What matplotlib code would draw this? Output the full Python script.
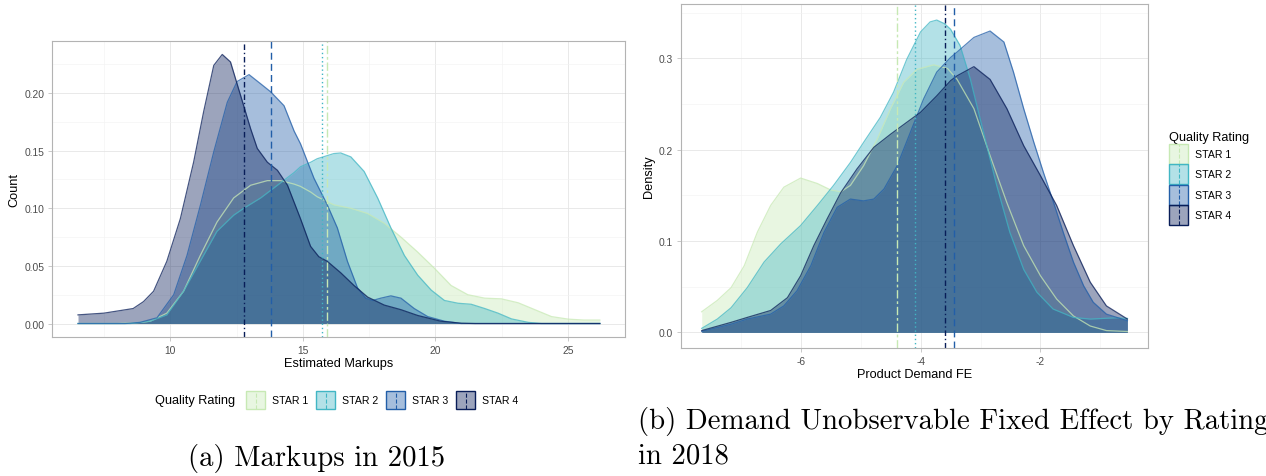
import matplotlib
matplotlib.use("Agg")
import matplotlib.pyplot as plt
from matplotlib.patches import Rectangle
from matplotlib.lines import Line2D
from matplotlib.legend_handler import HandlerBase

plt.rcParams["font.family"] = ["Liberation Sans", "DejaVu Sans"]
plt.rcParams["axes.unicode_minus"] = False

# series names, colours, line styles of the mean lines
stars = ["STAR 1", "STAR 2", "STAR 3", "STAR 4"]
colors = ["#c7e9b4", "#41b6c4", "#225ea8", "#081d58"]
vstyles = [(0, (6, 2, 2, 2)), (0, (1, 2)), (0, (5, 3)), (0, (4, 2, 1, 2))]

# (a) markups 2015 - density curves
mk_x1 = [6.52, 8.0, 8.9, 9.24, 9.87, 10.5, 11.13, 11.76, 12.39, 13.03, 13.66, 14.16, 14.67, 14.91, 15.3,
         15.54, 16.17, 16.81, 17.44, 18.07, 18.7, 19.33, 19.96, 20.59, 21.22, 21.86, 22.49, 23.12, 23.75,
         24.38, 25.01, 25.6, 26.2]
mk_y1 = [0.0, 0.0, 0.001, 0.002, 0.009, 0.028, 0.059, 0.088, 0.109, 0.120, 0.124, 0.124, 0.121, 0.119, 0.114,
         0.110, 0.103, 0.100, 0.0955, 0.087, 0.075, 0.062, 0.048, 0.033, 0.025, 0.022, 0.0214, 0.018, 0.012,
         0.006, 0.0038, 0.003, 0.003]
mk_x2 = [6.52, 8.5, 9.24, 9.87, 10.5, 11.13, 11.76, 12.39, 12.77, 13.41, 14.04, 14.67, 14.91, 15.3, 15.54,
         16.17, 16.43, 16.81, 17.31, 17.82, 18.32, 18.83, 19.33, 19.84, 20.34, 20.85, 21.35, 21.86, 22.36,
         22.87, 23.5, 24.0, 26.2]
mk_y2 = [0.0, 0.0, 0.002, 0.0075, 0.028, 0.054, 0.080, 0.094, 0.100, 0.109, 0.120, 0.131, 0.136, 0.140, 0.143,
         0.1475, 0.148, 0.1446, 0.132, 0.109, 0.083, 0.059, 0.042, 0.029, 0.020, 0.0176, 0.0167, 0.013, 0.009,
         0.004, 0.001, 0.0, 0.0]
mk_x3 = [6.52, 8.3, 8.86, 9.5, 10.13, 10.63, 11.14, 11.64, 12.15, 12.52, 12.97, 13.41, 13.79, 14.29, 14.67,
         14.91, 15.42, 15.92, 16.3, 16.68, 17.06, 17.37, 17.63, 17.94, 18.32, 18.7, 19.2, 19.71, 20.34, 20.97, 26.2]
mk_y3 = [0.0, 0.0, 0.001, 0.005, 0.025, 0.059, 0.103, 0.149, 0.192, 0.210, 0.216, 0.208, 0.201, 0.189, 0.167,
         0.156, 0.126, 0.103, 0.083, 0.054, 0.031, 0.022, 0.020, 0.022, 0.024, 0.022, 0.013, 0.006, 0.002, 0.0, 0.0]
mk_x4 = [6.52, 7.5, 8.6, 8.99, 9.37, 9.87, 10.38, 10.88, 11.26, 11.64, 11.96, 12.27, 12.65, 13.03, 13.28,
         13.66, 14.04, 14.42, 14.91, 15.29, 15.6, 15.92, 16.43, 16.93, 17.44, 18.07, 18.7, 19.33, 20.2, 20.97,
         21.5, 26.2]
mk_y4 = [0.0075, 0.009, 0.013, 0.019, 0.028, 0.054, 0.091, 0.140, 0.184, 0.224, 0.2335, 0.227, 0.198, 0.169,
         0.152, 0.140, 0.133, 0.120, 0.091, 0.067, 0.058, 0.054, 0.044, 0.033, 0.023, 0.016, 0.012, 0.007,
         0.002, 0.0003, 0.0, 0.0]
mk_means = [15.92, 15.71, 13.79, 12.77]

# (b) demand fixed effect 2018
fe_x1 = [-7.65, -7.39, -7.16, -6.94, -6.72, -6.5, -6.28, -6.0, -5.72, -5.5, -5.33, -5.17, -4.95, -4.72, -4.5,
         -4.28, -4.06, -3.78, -3.55, -3.39, -3.11, -2.84, -2.56, -2.28, -2.0, -1.73, -1.45, -1.17, -0.9, -0.55]
fe_y1 = [0.0226, 0.035, 0.049, 0.073, 0.110, 0.139, 0.159, 0.169, 0.163, 0.156, 0.154, 0.161, 0.1825, 0.212,
         0.245, 0.274, 0.288, 0.293, 0.289, 0.277, 0.245, 0.1935, 0.142, 0.095, 0.062, 0.0365, 0.018, 0.007,
         0.002, 0.001]
fe_x2 = [-7.65, -7.39, -7.16, -6.89, -6.61, -6.33, -6.0, -5.72, -5.45, -5.17, -4.95, -4.67, -4.45, -4.23, -4.0,
         -3.84, -3.73, -3.6, -3.5, -3.34, -3.17, -2.95, -2.73, -2.51, -2.28, -2.06, -1.79, -1.45, -1.17, -0.9,
         -0.73, -0.55]
fe_y2 = [0.0044, 0.0146, 0.027, 0.049, 0.077, 0.097, 0.117, 0.139, 0.161, 0.186, 0.208, 0.2355, 0.263, 0.299,
         0.329, 0.340, 0.342, 0.338, 0.332, 0.314, 0.2775, 0.219, 0.161, 0.1095, 0.069, 0.044, 0.0256, 0.0164,
         0.0146, 0.0155, 0.016, 0.0153]
fe_x3 = [-7.65, -7.16, -6.89, -6.5, -6.28, -6.06, -5.83, -5.61, -5.39, -5.17, -4.95, -4.78, -4.61, -4.39, -4.17,
         -3.95, -3.73, -3.5, -3.39, -3.11, -2.84, -2.61, -2.45, -2.28, -2.11, -1.95, -1.78, -1.62, -1.45, -1.28,
         -1.12, -0.9, -0.55]
fe_y3 = [0.001, 0.009, 0.0146, 0.020, 0.029, 0.0456, 0.073, 0.1095, 0.137, 0.146, 0.144, 0.146, 0.157, 0.1825,
         0.219, 0.2555, 0.285, 0.301, 0.307, 0.323, 0.330, 0.318, 0.285, 0.245, 0.208, 0.175, 0.142, 0.1095,
         0.077, 0.051, 0.033, 0.020, 0.0128]
fe_x4 = [-7.65, -7.16, -6.89, -6.5, -6.22, -6.0, -5.78, -5.56, -5.33, -5.06, -4.78, -4.5, -4.23, -4.0, -3.73,
         -3.5, -3.39, -3.11, -2.84, -2.56, -2.28, -2.0, -1.73, -1.45, -1.17, -0.9, -0.55]
fe_y4 = [0.002, 0.011, 0.0164, 0.024, 0.038, 0.062, 0.095, 0.124, 0.153, 0.179, 0.2026, 0.217, 0.230, 0.241,
         0.259, 0.2756, 0.281, 0.291, 0.277, 0.245, 0.2045, 0.1716, 0.139, 0.095, 0.055, 0.029, 0.0146]
fe_means = [-4.39, -4.10, -3.45, -3.60]


class KeyHandler(HandlerBase):
    # ggplot style key: filled box with the mean line through the middle
    def create_artists(self, legend, orig, xd, yd, w, h, fontsize, trans):
        c, ls = orig.get_color(), orig.get_linestyle()
        x0, y0 = -xd, -yd
        box = Rectangle((x0, y0), w, h, fc=c, alpha=0.4, ec="none", transform=trans)
        edge = Rectangle((x0, y0), w, h, fc="none", ec=c, lw=1.0, transform=trans)
        mid = Line2D([x0 + w / 2, x0 + w / 2], [y0, y0 + h], color=c, lw=0.8,
                     linestyle=ls, transform=trans)
        return [box, edge, mid]


def style_axes(ax):
    for s in ax.spines.values():
        s.set_color("#b3b3b3")
        s.set_linewidth(0.8)
    ax.grid(which="major", color="#e5e5e5", lw=0.6)
    ax.grid(which="minor", color="#f2f2f2", lw=0.4)
    ax.set_axisbelow(True)
    ax.tick_params(which="major", length=3, width=0.5, color="#b3b3b3", labelsize=7.4,
                   labelcolor="#4d4d4d", pad=2.5)
    ax.tick_params(which="minor", length=0)


def draw(ax, xs, ys, means):
    for x, y, c in zip(xs, ys, colors):
        ax.fill_between(x, y, color=c, alpha=0.4, lw=0)
        ax.plot(x, y, color=c, lw=0.9, alpha=0.75)
    for m, c, ls in zip(means, colors, vstyles):
        ax.axvline(m, color=c, lw=1.0, linestyle=ls)


fig = plt.figure(figsize=(12.66, 4.77), dpi=100)
ax1 = fig.add_axes([0.0411, 0.2914, 0.4526, 0.6206])
ax2 = fig.add_axes([0.5377, 0.2683, 0.3694, 0.7212])

draw(ax1, [mk_x1, mk_x2, mk_x3, mk_x4], [mk_y1, mk_y2, mk_y3, mk_y4], mk_means)
ax1.set_xlim(5.54, 27.15)
ax1.set_ylim(-0.0117, 0.2452)
ax1.set_xticks([10, 15, 20, 25])
ax1.set_xticks([7.5, 12.5, 17.5, 22.5], minor=True)
ax1.set_yticks([0, 0.05, 0.10, 0.15, 0.20])
ax1.set_yticklabels(["0.00", "0.05", "0.10", "0.15", "0.20"])
ax1.set_yticks([0.025, 0.075, 0.125, 0.175, 0.225], minor=True)
ax1.set_xlabel("Estimated Markups", fontsize=9.2, labelpad=2)
ax1.set_ylabel("Count", fontsize=9.2, labelpad=3)
style_axes(ax1)

draw(ax2, [fe_x1, fe_x2, fe_x3, fe_x4], [fe_y1, fe_y2, fe_y3, fe_y4], fe_means)
ax2.set_xlim(-8.0, -0.2)
ax2.set_ylim(-0.0171, 0.3596)
ax2.set_xticks([-6, -4, -2])
ax2.set_xticks([-7, -5, -3, -1], minor=True)
ax2.set_yticks([0, 0.1, 0.2, 0.3])
ax2.set_yticklabels(["0.0", "0.1", "0.2", "0.3"])
ax2.set_yticks([0.05, 0.15, 0.25, 0.35], minor=True)
ax2.set_xlabel("Product Demand FE", fontsize=9.2, labelpad=2)
ax2.set_ylabel("Density", fontsize=9.2, labelpad=3)
style_axes(ax2)

handles = [Line2D([], [], color=c, linestyle=ls) for c, ls in zip(colors, vstyles)]

leg1 = fig.legend(handles, stars, handler_map={Line2D: KeyHandler()}, ncol=4, frameon=False,
                  loc="center left", bbox_to_anchor=(246 / 1266, 1 - 401 / 477), fontsize=7.6,
                  handlelength=1.8, handleheight=2.25, handletextpad=0.65, columnspacing=0.75,
                  borderpad=0, borderaxespad=0)
fig.text(155 / 1266, 1 - 401 / 477, "Quality Rating", fontsize=9.2, ha="left", va="center")

leg2 = fig.legend(handles, stars, handler_map={Line2D: KeyHandler()}, frameon=False,
                  loc="upper left", bbox_to_anchor=(1169 / 1266, 1 - 132 / 477), fontsize=7.6,
                  title="Quality Rating", title_fontsize=9.2, alignment="left",
                  handlelength=1.8, handleheight=2.54, handletextpad=0.65, labelspacing=0.05,
                  borderpad=0, borderaxespad=0)

# figure captions
fig.text(317 / 1266, 1 - 458 / 477, "(a) Markups in 2015", family="cmr10", fontsize=20.7,
         ha="center", va="center")
fig.text(638 / 1266, 1 - 421 / 477, "(b) Demand Unobservable Fixed Effect by Rating", family="cmr10",
         fontsize=20.7, ha="left", va="center")
fig.text(638 / 1266, 1 - 456 / 477, "in 2018", family="cmr10", fontsize=20.7, ha="left", va="center")

fig.savefig("out.png", dpi=100)
